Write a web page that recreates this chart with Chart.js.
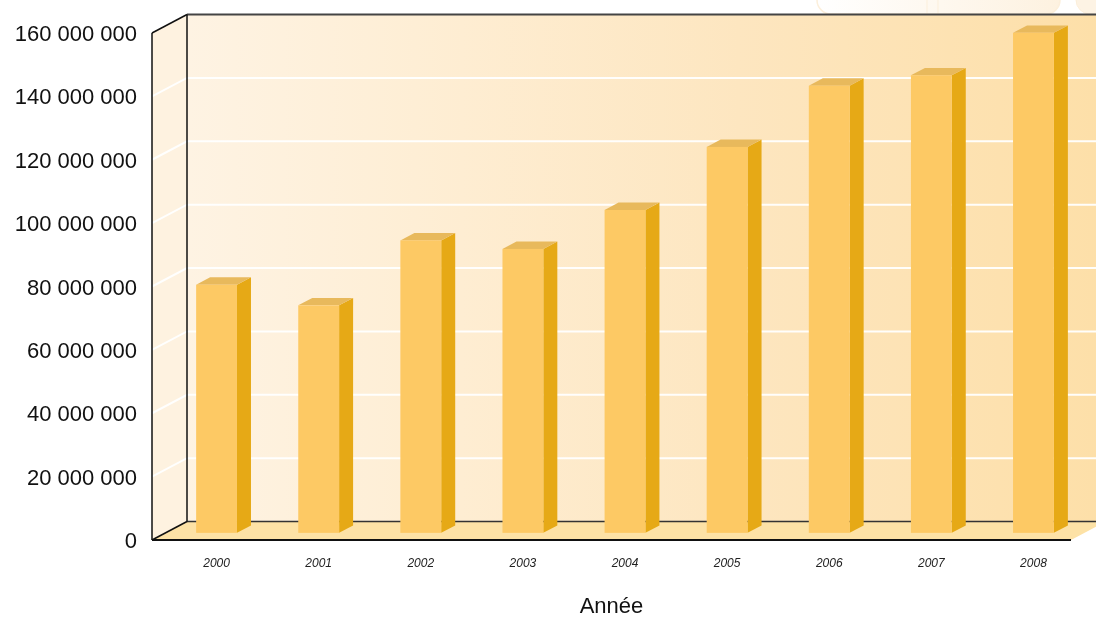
<!DOCTYPE html>
<html>
<head>
<meta charset="utf-8">
<script src="https://cdn.jsdelivr.net/npm/chart.js@4"></script>
<style>
html, body { margin: 0; padding: 0; background: #fff; }
</style>
</head>
<body>
<canvas id="graphique" width="1096" height="617"></canvas>
<script>
// Données
const annees = ['2000', '2001', '2002', '2003', '2004', '2005', '2006', '2007', '2008'];
const valeurs = [78300000, 71800000, 92300000, 89600000, 101900000, 121800000, 141100000, 144400000, 157800000];
const axeMin = 0;
const axeMax = 160000000;
const axePas = 20000000;

// Profondeur du décor 3D (en pixels)
const PROF_X = 35;
const PROF_Y = -18.5;
const BARRE_AVANT = 0.386;   // position de la face avant dans la profondeur
const BARRE_EP = 0.4;        // épaisseur de la barre

// 160000000 -> "160 000 000"
const formatNombre = (n) => String(n).replace(/\B(?=(\d{3})+(?!\d))/g, ' ');

const POLICE = "'Liberation Sans', Arial, sans-serif";

function poly(ctx, pts, fill) {
    ctx.beginPath();
    ctx.moveTo(pts[0][0], pts[0][1]);
    for (let i = 1; i < pts.length; i++) ctx.lineTo(pts[i][0], pts[i][1]);
    ctx.closePath();
    ctx.fillStyle = fill;
    ctx.fill();
}

function ligne(ctx, x1, y1, x2, y2, couleur, ep) {
    ctx.beginPath();
    ctx.moveTo(x1, y1);
    ctx.lineTo(x2, y2);
    ctx.strokeStyle = couleur;
    ctx.lineWidth = ep;
    ctx.stroke();
}

// petites formes pâles coupées en haut à droite (reste d'une légende)
function formesPales(ctx, w) {
    ctx.save();
    let g = ctx.createLinearGradient(w - 280, 0, w - 30, 0);
    g.addColorStop(0, '#ffffff');
    g.addColorStop(1, '#fdf1df');
    ctx.fillStyle = g;
    ctx.strokeStyle = '#fcefdb';
    ctx.lineWidth = 1.5;
    ctx.beginPath();
    ctx.roundRect(w - 279, -30, 243, 44, 14);
    ctx.fill();
    ctx.stroke();
    ligne(ctx, w - 169, 0, w - 169, 14, '#fcefdb', 1);
    ligne(ctx, w - 158, 0, w - 158, 14, '#fcefdb', 1);
    ctx.beginPath();
    ctx.roundRect(w - 20, -30, 60, 44, 14);
    ctx.fillStyle = '#fdf3e4';
    ctx.fill();
    ctx.strokeStyle = '#fcefdb';
    ctx.stroke();
    ctx.restore();
}

const decor3d = {
    id: 'decor3d',
    beforeDatasetsDraw(chart) {
        const ctx = chart.ctx;
        const { left: L, right: R, top: T, bottom: B } = chart.chartArea;
        const yScale = chart.scales.y;
        const dx = PROF_X, dy = PROF_Y;
        ctx.save();

        formesPales(ctx, chart.width);

        // mur de gauche
        poly(ctx, [[L, T], [L + dx, T + dy], [L + dx, B + dy], [L, B]], '#fef2e0');

        // mur du fond (dégradé)
        let grad = ctx.createLinearGradient(L + dx, 0, R + dx, 0);
        grad.addColorStop(0, '#fef3e3');
        grad.addColorStop(0.3, '#feedd2');
        grad.addColorStop(0.6, '#fde6c0');
        grad.addColorStop(1, '#fddfa8');
        ctx.fillStyle = grad;
        ctx.fillRect(L + dx, T + dy, R - L, B - T);

        // sol
        poly(ctx, [[L, B], [R, B], [R + dx, B + dy], [L + dx, B + dy]], '#fde2a6');

        // lignes de grille blanches
        yScale.ticks.forEach(t => {
            if (t.value === axeMin || t.value === axeMax) return;
            const y = yScale.getPixelForValue(t.value);
            ctx.beginPath();
            ctx.moveTo(L, y);
            ctx.lineTo(L + dx, y + dy);
            ctx.lineTo(R + dx, y + dy);
            ctx.strokeStyle = 'rgba(255,255,255,0.95)';
            ctx.lineWidth = 2;
            ctx.stroke();
        });

        // cadre
        ligne(ctx, L + dx, T + dy, R + dx + 10, T + dy, '#444', 2);
        ligne(ctx, L + dx, B + dy, R + dx + 10, B + dy, '#333', 1.5);
        ligne(ctx, L + dx, T + dy, L + dx, B + dy, '#111', 1.5);
        ligne(ctx, L, T, L + dx, T + dy, '#111', 1.5);
        ligne(ctx, L, B, L + dx, B + dy, '#111', 1.5);
        ligne(ctx, L, T, L, B, '#111', 1.5);
        ligne(ctx, L, B, R, B, '#111', 2);

        ctx.restore();
    },
    afterDatasetsDraw(chart) {
        const ctx = chart.ctx;
        const meta = chart.getDatasetMeta(0);
        const bx = PROF_X * BARRE_AVANT, by = PROF_Y * BARRE_AVANT;
        const sx = PROF_X * BARRE_EP, sy = PROF_Y * BARRE_EP;
        ctx.save();
        meta.data.forEach(el => {
            const p = el.getProps(['x', 'y', 'base', 'width'], true);
            const x0 = p.x - p.width / 2 + bx;
            const x1 = p.x + p.width / 2 + bx;
            const haut = p.y + by;
            const bas = p.base + by;
            // côté
            poly(ctx, [[x1, haut], [x1 + sx, haut + sy], [x1 + sx, bas + sy], [x1, bas]], '#e6a916');
            // dessus
            poly(ctx, [[x0, haut], [x1, haut], [x1 + sx, haut + sy], [x0 + sx, haut + sy]], '#e8b95c');
            // face avant
            ctx.fillStyle = '#fdc964';
            ctx.fillRect(x0, haut, x1 - x0, bas - haut);
        });
        ctx.restore();
    }
};

const ctx = document.getElementById('graphique').getContext('2d');

new Chart(ctx, {
    type: 'bar',
    data: {
        labels: annees,
        datasets: [{
            label: 'Valeur',
            data: valeurs,
            backgroundColor: 'rgba(0,0,0,0)',
            borderWidth: 0,
            categoryPercentage: 1,
            barPercentage: 0.4
        }]
    },
    options: {
        responsive: false,
        animation: false,
        devicePixelRatio: 1,
        layout: { padding: { top: 33, right: 25, left: 0, bottom: 0 } },
        plugins: {
            legend: { display: false },
            tooltip: { enabled: false }
        },
        scales: {
            y: {
                min: axeMin,
                max: axeMax,
                ticks: {
                    stepSize: axePas,
                    callback: (v) => formatNombre(v),
                    font: { family: POLICE, size: 22 },
                    color: '#111',
                    padding: 15,
                    labelOffset: 2
                },
                grid: { display: false, drawTicks: false },
                border: { display: false },
                afterFit: (s) => { s.width = 152; }
            },
            x: {
                ticks: {
                    font: { family: POLICE, size: 12, style: 'italic' },
                    color: '#222',
                    padding: 16,
                    labelOffset: PROF_X * BARRE_AVANT
                },
                grid: { display: false, drawTicks: false },
                border: { display: false },
                title: {
                    display: true,
                    text: 'Année',
                    font: { family: POLICE, size: 22, lineHeight: 0.9 },
                    color: '#111',
                    padding: 0
                },
                afterFit: (s) => { s.height = 77; }
            }
        }
    },
    plugins: [decor3d]
});
</script>
</body>
</html>
